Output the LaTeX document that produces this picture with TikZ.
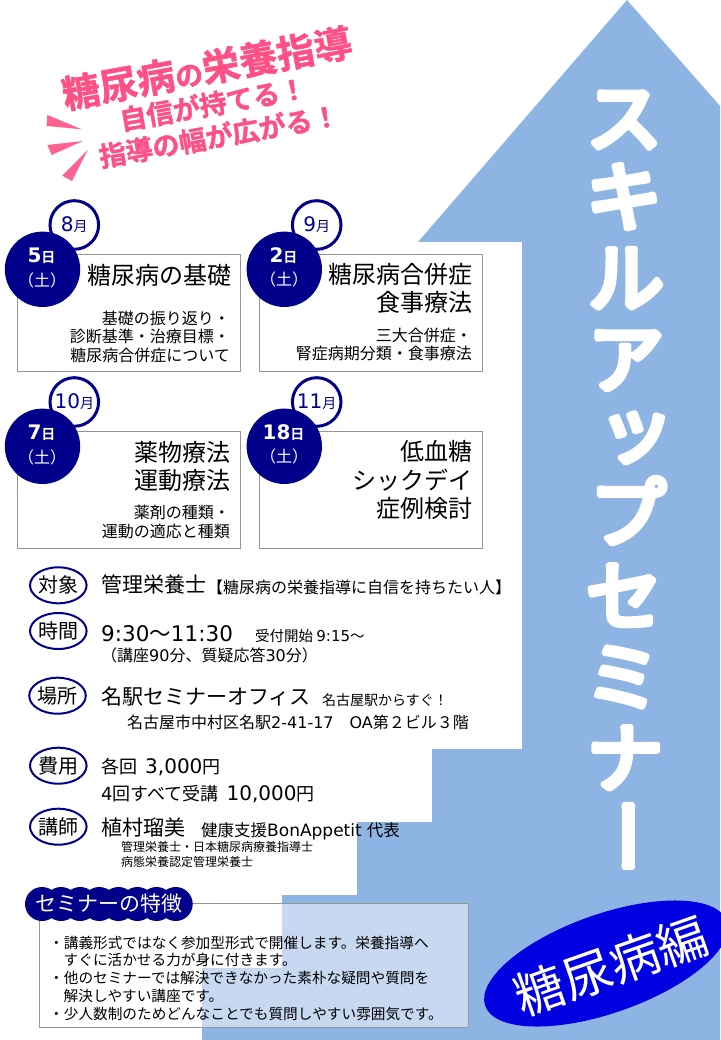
\documentclass[tikz,border=0pt]{standalone}
\usepackage{fontspec}
\usepackage{xcolor}
\usetikzlibrary{shapes.geometric}
\setmainfont[BoldFont={Noto Sans CJK JP Bold}]{Noto Sans CJK JP}
\newfontfamily\lat{DejaVu Sans}
\definecolor{arrowblue}{HTML}{8EB4E3}
\definecolor{dayblue}{HTML}{00008B}
\definecolor{ovalblue}{HTML}{0000E0}
\definecolor{titlepink}{HTML}{FF5085}
\definecolor{boxgray}{HTML}{969696}
\newcommand{\fs}[1]{\fontsize{#1}{#1}\selectfont}
\newcommand{\rndtxt}[2]{\special{pdf:code 1 j 1 J #1 w 2 Tr}#2\special{pdf:code 0 Tr 0 j 0 J 1 w}}
\newcommand{\mon}[1]{{\fs{20}\lat #1}{\fs{14}月}}
\tikzset{
  txt/.style={font=\fs{#1}, inner sep=0pt, text height=0.88*#1 pt, text depth=0.12*#1 pt},
  ltxt/.style={txt=#1, anchor=west},
  rtxt/.style={txt=#1, anchor=east},
  lesson/.style={draw=boxgray, line width=1pt, minimum width=223pt, minimum height=117pt},
  daycirc/.style={circle, fill=dayblue, text=white, minimum size=75.4pt, inner sep=0pt},
  moncirc/.style={circle, draw=dayblue, line width=3pt, fill=white, minimum size=48.6pt, inner sep=0pt, text=dayblue},
  tag/.style={ellipse, draw=dayblue, line width=2pt, minimum width=56pt, minimum height=36pt, inner sep=0pt, txt=20},
}
\begin{document}
\begin{tikzpicture}[x=1pt, y=-1pt]
  \useasboundingbox (0,0) rectangle (720,1040);
  \fill[arrowblue] (627,0) -- (720,106) -- (720,1040) -- (202,1040) -- (202,968) -- (282,968) -- (282,895) -- (357,895) -- (357,822) -- (432,822) -- (432,749) -- (522,749) -- (522,242) -- (418,242) -- cycle;

  % vertical title
  \foreach \ch/\xc/\yc/\nm in {ス/624/117/a, キ/624/196/b, ル/626/277/c, ア/626/358/d, ッ/636/428/e, プ/628/512/f, セ/624/595/g, ミ/623/676/h, ナ/625/757/i}
    \node[txt=76, text=white] (skill\nm) at (\xc,\yc) {\rndtxt{6}{\ch}};
  \node[txt=78, text=white, rotate=-90] (skillj) at (628,836) {\rndtxt{6}{ー}};

  % catch copy
  \node[txt=38, text=titlepink, rotate=10.5] (catcha) at (207,68) {\rndtxt{0.5}{\textbf{糖尿病{\fs{28}の}栄養指導}}};
  \node[txt=27, text=titlepink, rotate=10] (catchb) at (213,104) {\rndtxt{0.4}{\textbf{自信が持てる！}}};
  \node[txt=27, text=titlepink, rotate=10] (catchc) at (219,136) {\rndtxt{0.4}{\textbf{指導の幅が広がる！}}};
  \fill[titlepink!90!white] (47.3,115) -- (46.7,126) -- (81.7,129.3) -- cycle;
  \fill[titlepink!90!white] (47.3,145) -- (51.7,155) -- (82.7,141) -- cycle;
  \fill[titlepink!90!white] (62.3,175.7) -- (72,181) -- (87.7,150) -- cycle;

  % lessons
  \node[lesson] (boxa) at (129,313) {};
  \node[lesson] (boxb) at (371,313) {};
  \node[lesson] (boxc) at (129,490) {};
  \node[lesson] (boxd) at (371,490) {};

  \node[moncirc] (mona) at (74.3,225) {\mon{8}};
  \node[moncirc] (monb) at (316.7,225) {\mon{9}};
  \node[moncirc] (monc) at (74.3,402) {\mon{10}};
  \node[moncirc] (mond) at (316.7,402) {\mon{11}};

  \node[daycirc] (daya) at (42.5,269.3) {};
  \node[daycirc] (dayb) at (284.3,269.3) {};
  \node[daycirc] (dayc) at (42.5,446.3) {};
  \node[daycirc] (dayd) at (284.3,446.3) {};
  \node[txt=14, text=white] (numa) at (41.5,257) {\bfseries{\fs{20}\lat\bfseries 5}日};
  \node[txt=14, text=white] (numb) at (283.5,257) {\bfseries{\fs{20}\lat\bfseries 2}日};
  \node[txt=14, text=white] (numc) at (41.5,434) {\bfseries{\fs{20}\lat\bfseries 7}日};
  \node[txt=14, text=white] (numd) at (283.5,434) {\bfseries{\fs{20}\lat\bfseries 18}日};
  \node[txt=16, text=white] (sata) at (42,280) {（土）};
  \node[txt=16, text=white] (satb) at (284,279) {（土）};
  \node[txt=16, text=white] (satc) at (42,457) {（土）};
  \node[txt=16, text=white] (satd) at (284,456) {（土）};

  \node[rtxt=24] (heada) at (231.5,275) {糖尿病の基礎};
  \node[rtxt=16] (suba) at (230,318) {基礎の振り返り・};
  \node[rtxt=16] (subb) at (230,336) {診断基準・治療目標・};
  \node[rtxt=16] (subc) at (230,355) {糖尿病合併症について};

  \node[rtxt=24] (headb) at (472.5,274) {糖尿病合併症};
  \node[rtxt=24] (headc) at (472.5,302) {食事療法};
  \node[rtxt=16] (subd) at (472,335) {三大合併症・};
  \node[rtxt=16] (sube) at (472,353) {腎症病期分類・食事療法};

  \node[rtxt=24] (headd) at (230.5,452) {薬物療法};
  \node[rtxt=24] (heade) at (230.5,480) {運動療法};
  \node[rtxt=16] (subf) at (230,512) {薬剤の種類・};
  \node[rtxt=16] (subg) at (230,531) {運動の適応と種類};

  \node[rtxt=24] (headf) at (472.5,451) {低血糖};
  \node[rtxt=24] (headg) at (472.5,480) {シックデイ};
  \node[rtxt=24] (headh) at (472.5,508) {症例検討};

  % details
  \node[tag] (tagtarget) at (58.3,585.3) {対象};
  \node[tag] (tagtime) at (58.3,631) {時間};
  \node[tag] (tagplace) at (57.5,695.7) {場所};
  \node[tag] (tagfee) at (58.3,765.7) {費用};
  \node[tag] (tagteach) at (58.3,826.7) {講師};

  \node[ltxt=21] (target) at (101,585) {管理栄養士};
  \node[ltxt=16] (targetsub) at (207,587) {【糖尿病の栄養指導に自信を持ちたい人】};

  \node[ltxt=21.5] (time) at (101,633) {{\lat 9:30}～{\lat 11:30}};
  \node[ltxt=14.5] (timesub) at (255,636) {受付開始 {\fs{15}\lat 9:15}～};
  \node[ltxt=16] (timenote) at (101,655) {（講座{\lat 90}分、質疑応答{\lat 30}分）};

  \node[ltxt=21] (place) at (101,697) {名駅セミナーオフィス};
  \node[ltxt=14] (placesub) at (322,700) {名古屋駅からすぐ！};
  \node[ltxt=16] (address) at (127,722) {名古屋市中村区名駅{\lat 2-41-17}　{\lat OA}第２ビル３階};

  \node[ltxt=18] (feea) at (101,767) {各回\hspace{8pt}{\fs{20}\lat 3,000}円};
  \node[ltxt=18] (feeb) at (101,794) {{\lat 4}回すべて受講\hspace{8pt}{\fs{20}\lat 10,000}円};

  \node[ltxt=21] (teacher) at (101,828) {植村瑠美};
  \node[ltxt=16.5] (teachersub) at (201,830) {健康支援{\fs{17}\lat BonAppetit}\hspace{5pt}代表};
  \node[ltxt=12] (careera) at (121,847) {管理栄養士・日本糖尿病療養指導士};
  \node[ltxt=12] (careerb) at (121,862) {病態栄養認定管理栄養士};

  % features panel
  \node[draw=boxgray, line width=1pt, fill=white, fill opacity=0.5, minimum width=429pt, minimum height=124pt, anchor=north west] (panel) at (39,903) {};
  \foreach \xc in {42,61.1,...,177}
    \fill[dayblue] (\xc,904) circle (17);
  \node[txt=21, text=white] (panelhead) at (109,904) {セミナーの特徴};

  \node[ltxt=14.65] (linea) at (49,943) {・講義形式ではなく参加型形式で開催します。栄養指導へ};
  \node[ltxt=14.65] (lineb) at (63.5,960) {すぐに活かせる力が身に付きます。};
  \node[ltxt=14.65] (linec) at (49,978) {・他のセミナーでは解決できなかった素朴な疑問や質問を};
  \node[ltxt=14.65] (lined) at (63.5,996) {解決しやすい講座です。};
  \node[ltxt=14.65] (linee) at (49,1014) {・少人数制のためどんなことでも質問しやすい雰囲気です。};

  % sub title
  \fill[ovalblue, rotate around={19.3:(606,963.5)}] (606,963.5) ellipse (128 and 49.5);
  \node[txt=50, text=white, rotate=19.3] (diabetes) at (611,966) {糖尿病編};
\end{tikzpicture}
\end{document}
